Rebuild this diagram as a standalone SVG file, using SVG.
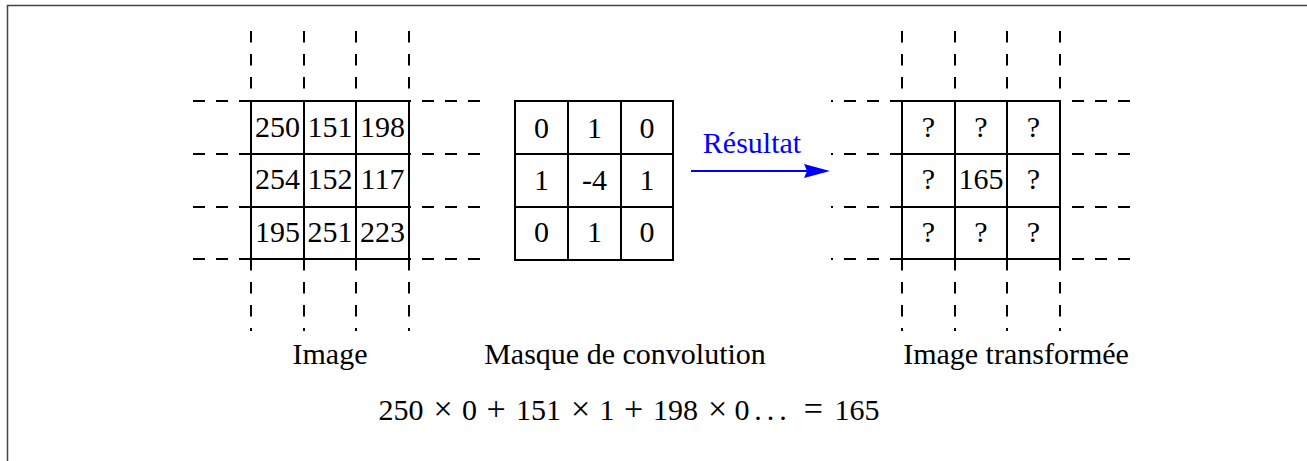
<svg xmlns="http://www.w3.org/2000/svg" width="1307" height="461" viewBox="0 0 1307 461">
<defs>
<style>
.t{font-family:"Liberation Serif","Times New Roman",serif;font-size:30px;fill:#000;text-anchor:middle}
.op{font-size:34px}
.g{fill:none;stroke:#000;stroke-width:2}
.dv{fill:none;stroke:#000;stroke-width:2;stroke-dasharray:11.5 11.5}
.dh{fill:none;stroke:#000;stroke-width:2;stroke-dasharray:12 11}
</style>
</defs>
<rect width="1307" height="461" fill="#fff"/>
<path d="M7.5 461V5.5H1307" fill="none" stroke="#444" stroke-width="1.5"/>

<g id="image">
<path class="dv" d="M251 31V101M304 31V101M356 31V101M409 31V101M251 259V331M304 259V331M356 259V331M409 259V331"/>
<path class="dh" d="M251 101H192M251 154H192M251 207H192M251 259H192M480 101H409M480 154H409M480 207H409M480 259H409"/>
<path class="g" d="M251 101H409V259H251ZM304 101V259M356 101V259M251 154H409M251 207H409"/>
<text class="t" x="277.5" y="137">250</text>
<text class="t" x="330" y="137">151</text>
<text class="t" x="382.5" y="137">198</text>
<text class="t" x="277.5" y="189">254</text>
<text class="t" x="330" y="189">152</text>
<text class="t" x="382.5" y="189">117</text>
<text class="t" x="277.5" y="241.5">195</text>
<text class="t" x="330" y="241.5">251</text>
<text class="t" x="382.5" y="241.5">223</text>
</g>

<g id="mask">
<path class="g" d="M515 101H673V260H515ZM568 101V260M621 101V260M515 154H673M515 207H673"/>
<text class="t" x="541.5" y="138">0</text>
<text class="t" x="594.5" y="138">1</text>
<text class="t" x="647" y="138">0</text>
<text class="t" x="541.5" y="190">1</text>
<text class="t" x="594.5" y="190">-4</text>
<text class="t" x="647" y="190">1</text>
<text class="t" x="541.5" y="242">0</text>
<text class="t" x="594.5" y="242">1</text>
<text class="t" x="647" y="242">0</text>
</g>

<g id="result">
<path class="dv" d="M902 31V101M955 31V101M1007 31V101M1060 31V101M902 259V331M955 259V331M1007 259V331M1060 259V331"/>
<path class="dh" d="M902 101H831M902 154H831M902 207H831M902 259H831M1130 101H1060M1130 154H1060M1130 207H1060M1130 259H1060"/>
<path class="g" d="M902 101H1060V259H902ZM955 101V259M1007 101V259M902 154H1060M902 207H1060"/>
<text class="t" x="928.5" y="137">?</text>
<text class="t" x="981" y="137">?</text>
<text class="t" x="1033.5" y="137">?</text>
<text class="t" x="928.5" y="189">?</text>
<text class="t" x="981" y="189">165</text>
<text class="t" x="1033.5" y="189">?</text>
<text class="t" x="928.5" y="241.5">?</text>
<text class="t" x="981" y="241.5">?</text>
<text class="t" x="1033.5" y="241.5">?</text>
</g>

<g id="connectors">
<line x1="691" y1="171" x2="808" y2="171" stroke="#00f" stroke-width="2"/>
<path d="M830 171L804 164L807 171L804 178Z" fill="#00f"/>
<text class="t" x="752" y="153" style="fill:#00f">Résultat</text>
</g>

<g id="labels">
<text class="t" x="330" y="364">Image</text>
<text class="t" x="625" y="364">Masque de convolution</text>
<text class="t" x="1016" y="364">Image transformée</text>
</g>

<g id="formula">
<text class="t" y="420"><tspan x="401">250</tspan><tspan class="op" x="443">×</tspan><tspan x="469.6">0</tspan><tspan class="op" x="496.2">+</tspan><tspan x="538.5">151</tspan><tspan class="op" x="580.5">×</tspan><tspan x="607">1</tspan><tspan class="op" x="633.6">+</tspan><tspan x="675.5">198</tspan><tspan class="op" x="717.5">×</tspan><tspan x="742">0</tspan><tspan x="758">.</tspan><tspan x="770.5">.</tspan><tspan x="783">.</tspan><tspan class="op" x="813.3">=</tspan><tspan x="857">165</tspan></text>
</g>
</svg>
